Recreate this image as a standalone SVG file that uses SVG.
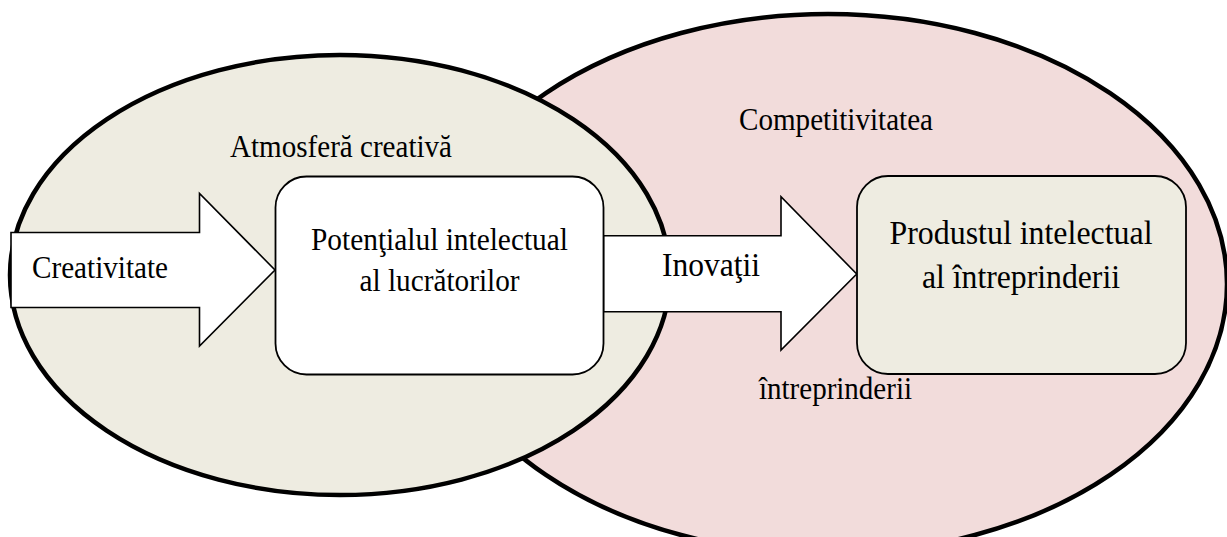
<svg xmlns="http://www.w3.org/2000/svg" width="1227" height="537" viewBox="0 0 1227 537">
  <style>
    .zone { stroke: #000; stroke-width: 4.5; }
    .box { stroke: #000; stroke-width: 1.8; }
    .arrow { fill: #fff; stroke: #000; stroke-width: 1.6; stroke-linejoin: miter; }
    text { font-family: "Liberation Serif", "Times New Roman", serif; fill: #000; }
    .lbl { font-size: 31px; }
    .big { font-size: 33px; }
    .mid { text-anchor: middle; }
  </style>

  <rect width="1227" height="537" fill="#fff"/>

  <!-- competitiveness zone (behind) -->
  <g id="zone-competitivitate">
    <ellipse class="zone" cx="828" cy="284" rx="399" ry="270" fill="#F2DCDB"/>
    <text class="lbl" x="739" y="130" textLength="194" lengthAdjust="spacingAndGlyphs">Competitivitatea</text>
    <text class="lbl" x="759" y="399" textLength="153" lengthAdjust="spacingAndGlyphs">întreprinderii</text>
  </g>

  <!-- creative atmosphere zone -->
  <g id="zone-atmosfera">
    <ellipse class="zone" cx="340" cy="275" rx="330" ry="220" fill="#EEECE1"/>
    <text class="lbl" x="230" y="157" textLength="222" lengthAdjust="spacingAndGlyphs">Atmosferă creativă</text>
  </g>

  <!-- block arrows -->
  <g id="connectors">
    <g id="arrow-creativitate">
      <polygon class="arrow" points="11,232.5 199.5,232.5 199.5,193.5 275,270 199.5,346 199.5,307.5 11,307.5"/>
      <text class="lbl" x="32" y="278" textLength="136" lengthAdjust="spacingAndGlyphs">Creativitate</text>
    </g>
    <g id="arrow-inovatii">
      <polygon class="arrow" points="603.5,235.7 781,235.7 781,196.7 856.7,274 781,350 781,311.7 603.5,311.7"/>
      <text class="big" x="662" y="275.5" textLength="98" lengthAdjust="spacingAndGlyphs">Inovaţii</text>
    </g>
  </g>

  <g id="node-potential">
    <rect class="box" x="275.5" y="176.5" width="328" height="198" rx="31" ry="31" fill="#fff"/>
    <text class="lbl mid" x="439.5" y="250" textLength="257" lengthAdjust="spacingAndGlyphs">Potenţialul intelectual</text>
    <text class="lbl mid" x="439.5" y="290.5" textLength="160" lengthAdjust="spacingAndGlyphs">al lucrătorilor</text>
  </g>

  <g id="node-produs">
    <rect class="box" x="857" y="176" width="329" height="198" rx="31" ry="31" fill="#EEECE1"/>
    <text class="big mid" x="1021" y="244" textLength="263" lengthAdjust="spacingAndGlyphs">Produstul intelectual</text>
    <text class="big mid" x="1021" y="288" textLength="198" lengthAdjust="spacingAndGlyphs">al întreprinderii</text>
  </g>
</svg>
